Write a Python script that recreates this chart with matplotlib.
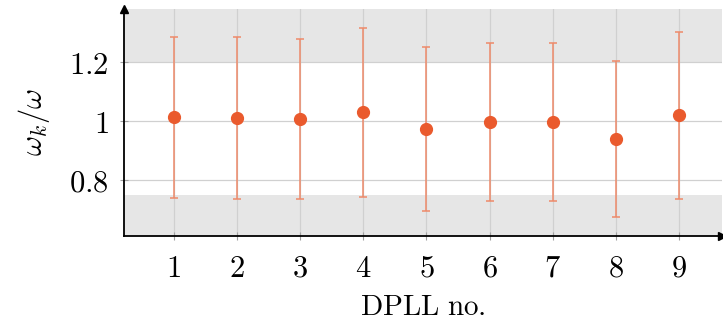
import numpy as np
import matplotlib.pyplot as plt

plt.rcParams['mathtext.fontset'] = 'cm'
plt.rcParams['font.family'] = 'serif'
plt.rcParams['font.serif'] = ['DejaVu Serif']

# measured frequency ratio per DPLL: mean and min/max spread
dpll = [1, 2, 3, 4, 5, 6, 7, 8, 9]
ratio_mean = [1.012, 1.011, 1.008, 1.030, 0.973, 0.998, 0.998, 0.939, 1.020]
ratio_low = [0.740, 0.736, 0.736, 0.743, 0.693, 0.728, 0.730, 0.675, 0.737]
ratio_high = [1.284, 1.284, 1.278, 1.316, 1.252, 1.265, 1.263, 1.202, 1.303]

yticks = [0.8, 1.0, 1.2]
ytick_labels = ['$0.8$', '$1$', '$1.2$']
band_low = 0.75
band_high = 1.2

xmin, xmax = 0.21, 9.68
ymin, ymax = 0.61, 1.38

orange = '#EA5A2D'

fig = plt.figure(figsize=(7.23, 3.21), dpi=100)
ax = fig.add_axes([0.1715, 0.265, 0.827, 0.707])

# shaded regions outside the tolerance band
ax.axhspan(band_high, ymax, color='#E6E6E6', lw=0, zorder=0)
ax.axhspan(ymin, band_low, color='#E6E6E6', lw=0, zorder=0)

mean = np.array(ratio_mean)
yerr = [mean - np.array(ratio_low), np.array(ratio_high) - mean]
ax.errorbar(dpll, mean, yerr=yerr, fmt='o', color=orange, ms=8.5,
            ecolor='#EE8A6A', elinewidth=1.1, capsize=3, capthick=1.1,
            zorder=3)

ax.set_xlim(xmin, xmax)
ax.set_ylim(ymin, ymax)
ax.set_xticks(dpll)
ax.set_xticklabels(['$%d$' % d for d in dpll])
ax.set_yticks(yticks)
ax.set_yticklabels(ytick_labels)
ax.grid(True, color='#D0D0D0', lw=0.9, zorder=1)
ax.tick_params(direction='inout', length=6, width=0.8, color='#A0A0A0',
               labelsize=22)
ax.tick_params(axis='x', pad=9)
ax.tick_params(axis='y', pad=8)

for side in ['top', 'right']:
    ax.spines[side].set_visible(False)
for side in ['left', 'bottom']:
    ax.spines[side].set_linewidth(1.3)
    ax.spines[side].set_zorder(4)

# arrow heads on the axes
ax.plot(1, 0, '>k', ms=6, transform=ax.transAxes, clip_on=False, zorder=5)
ax.plot(0, 1, '^k', ms=6, transform=ax.transAxes, clip_on=False, zorder=5)

ax.set_xlabel(r'$\mathrm{DPLL\ no.}$', fontsize=21, labelpad=7)
ax.set_ylabel(r'$\omega_k/\omega$', fontsize=22, labelpad=12)

fig.savefig('out.png', dpi=100)
